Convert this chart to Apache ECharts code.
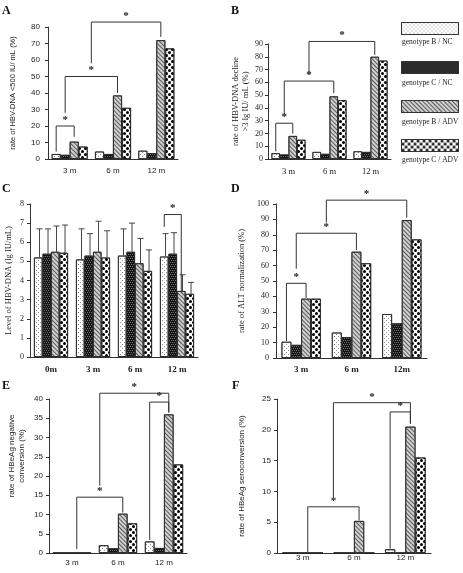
<!DOCTYPE html>
<html><head><meta charset="utf-8">
<script src="https://cdn.jsdelivr.net/npm/echarts@6/dist/echarts.min.js"></script>
<style>html,body{margin:0;padding:0;background:#fff}#c{width:463px;height:573px}</style>
</head><body><div id="c"></div>
<script>
// ---------- data ----------
const seriesNames = ['genotype B / NC', 'genotype C / NC', 'genotype B / ADV', 'genotype C / ADV'];

// A: rate of HBV-DNA <500 IU/mL (%)
const catsA = ['3 m', '6 m', '12 m'];
const aBNC = [3, 4.5, 5];
const aCNC = [2.5, 3, 3.5];
const aBADV = [10.5, 38.5, 72];
const aCADV = [7.5, 31, 67];
// bracket: [cat1, bar1, legBottom1, cat2, bar2, legBottom2, top]
const brA = [[0, 0, 4.5, 0, 2, 13.5, 20], [0, 1, 28, 1, 2, 40, 50], [0.5, 1.5, 58, 2, 2, 74, 83]];

// B: rate of HBV-DNA decline >3 lg IU/mL (%)
const catsB = ['3 m', '6 m', '12 m'];
const bBNC = [4.5, 5.5, 6];
const bCNC = [3.5, 4, 5.5];
const bBADV = [18, 49, 80];
const bCADV = [15, 46, 77];
const brB = [[0, 0, 6, 0, 2, 20, 28], [0, 1, 34, 1, 2, 51.5, 61], [0.5, 1.5, 66, 2, 2, 81.5, 92]];

// C: level of HBV-DNA (lg IU/mL)
const catsC = ['0m', '3 m', '6 m', '12 m'];
const cBNC = [5.2, 5.1, 5.3, 5.25];
const cCNC = [5.4, 5.3, 5.5, 5.4];
const cBADV = [5.5, 5.5, 4.9, 3.45];
const cCADV = [5.45, 5.2, 4.5, 3.3];
const cBNCup = [6.7, 6.7, 6.7, 6.45];
const cCNCup = [6.7, 6.45, 7.0, 6.5];
const cBADVup = [6.85, 7.1, 6.2, 4.3];
const cCADVup = [6.9, 6.6, 5.6, 3.9];
const brC = [[3, 0, 6.8, 3, 2, 3.45, 7.45]];

// D: rate of ALT normalization (%)
const catsD = ['3 m', '6 m', '12m'];
const dBNC = [10.5, 16.5, 28.5];
const dCNC = [8.5, 13.5, 22.5];
const dBADV = [38.5, 69, 89.5];
const dCADV = [38.5, 61.5, 77];
const brD = [[0, 0, 11, 0, 2, 39, 48.5], [0, 1, 58, 1, 2, 70, 81], [0.5, 1.5, 88, 2, 2, 91, 102.5]];

// E: rate of HBeAg negative conversion (%)
const catsE = ['3 m', '6 m', '12 m'];
const eBNC = [0, 2, 3];
const eCNC = [0, 1.2, 1.3];
const eBADV = [0, 10.2, 36];
const eCADV = [0, 7.7, 23];
const brE = [[0, 2, 1, 1, 2, 10.5, 14.5], [0.5, 2, 17.5, 2, 2, 36.5, 41.5], [2, 0, 3.4, 2, 2, 36.5, 39.2]];

// F: rate of HBeAg seroconversion (%)
const catsF = ['3 m', '6 m', '12 m'];
const fBNC = [0, 0, 0.6];
const fCNC = [0, 0, 0];
const fBADV = [0, 5.2, 20.5];
const fCADV = [0, 0, 15.5];
const brF = [[0, 2, 0, 1, 2, 5.3, 7.5], [0.5, 2, 8.9, 2, 2, 21, 24.4], [2, 0, 0.7, 2, 2, 21, 22.9]];

// ---------- styles / layout ----------
const SANS = 'Liberation Sans', SERIF = 'Liberation Serif';
const fills = [
  {color: '#ffffff', decal: {symbol: 'rect', symbolSize: 1, color: '#8c8c8c', dashArrayX: [[1, 3], [0, 2, 1, 1]], dashArrayY: [1, 1]}},
  {color: '#151515', decal: {symbol: 'rect', symbolSize: 1, color: '#707070', dashArrayX: [[1, 1], [0, 1, 1, 0]], dashArrayY: [1, 1]}},
  {color: '#d0d0d0', decal: {symbol: 'rect', symbolSize: 1, color: '#5a5a5a', dashArrayX: [[1, 0]], dashArrayY: [1, 2], rotation: Math.PI / 4}},
  {color: '#ffffff', decal: {symbol: 'circle', symbolSize: 1, color: '#000000', dashArrayX: [[3, 3], [0, 3, 3, 0]], dashArrayY: [3, 0]}}
];

const panels = [
  {grid: {left: 48, top: 27, width: 130, height: 132}, cats: catsA, data: [aBNC, aCNC, aBADV, aCADV], max: 80, interval: 10, gap: 0.17,
   font: SANS, catFont: {fontFamily: SANS, fontSize: 8}, labelMargin: 8, catMargin: 8, name: 'rate of HBV-DNA <500 IU/ mL (%)', nameGap: 30, nameSize: 7.5, br: brA},
  {grid: {left: 268, top: 44, width: 123, height: 115}, cats: catsB, data: [bBNC, bCNC, bBADV, bCADV], max: 90, interval: 10, gap: 0.17,
   font: SERIF, catFont: {fontFamily: SERIF, fontSize: 8.5}, labelMargin: 5, catMargin: 8, name: 'rate of HBV-DNA decline\n>3 lg IU/ mL (%)', nameGap: 12, nameSize: 8.5, br: brB},
  {grid: {left: 30, top: 204, width: 168, height: 153}, cats: catsC, data: [cBNC, cCNC, cBADV, cCADV], max: 8, interval: 1, gap: 0.19,
   font: SERIF, catFont: {fontFamily: SERIF, fontSize: 9, fontWeight: 'bold'}, labelMargin: 6, catMargin: 8, name: 'Level of HBV-DNA (lg IU/mL)', nameGap: 16, nameSize: 8.5, br: brC},
  {grid: {left: 276, top: 204, width: 151, height: 154}, cats: catsD, data: [dBNC, dCNC, dBADV, dCADV], max: 100, interval: 10, gap: 0.22,
   font: SERIF, catFont: {fontFamily: SERIF, fontSize: 9, fontWeight: 'bold'}, labelMargin: 7, catMargin: 7, name: 'rate of ALT normalization (%)', nameGap: 29, nameSize: 8.5, br: brD},
  {grid: {left: 49, top: 399, width: 138, height: 154}, cats: catsE, data: [eBNC, eCNC, eBADV, eCADV], max: 40, interval: 5, gap: 0.17,
   font: SANS, catFont: {fontFamily: SANS, fontSize: 8}, labelMargin: 6, catMargin: 6, name: '', nameGap: 22, nameSize: 8, br: brE},
  {grid: {left: 277, top: 399, width: 154, height: 154}, cats: catsF, data: [fBNC, fCNC, fBADV, fCADV], max: 25, interval: 5, gap: 0.21,
   font: SANS, catFont: {fontFamily: SANS, fontSize: 8}, labelMargin: 6, catMargin: 1, name: 'rate of HBeAg seroconversion (%)', nameGap: 30, nameSize: 8, br: brF}
];

function bracketRenderer(brs, gap) {
  return function (params, api) {
    const b = brs[params.dataIndex];
    const band = api.size([1, 0])[0];
    const barW = band * (1 - gap) / 4;
    const c0 = api.coord([0, 0])[0];
    const xOf = (cat, slot) => c0 + cat * band + (slot - 1.5) * barW;
    const x1 = xOf(b[0], b[1]), x2 = xOf(b[3], b[4]);
    const y1 = api.coord([0, b[2]])[1], y2 = api.coord([0, b[5]])[1], yt = api.coord([0, b[6]])[1];
    return {type: 'group', children: [
      {type: 'polyline', shape: {points: [[x1, y1], [x1, yt], [x2, yt], [x2, y2]]}, style: {stroke: '#333', fill: null, lineWidth: 1}},
      {type: 'text', x: (x1 + x2) / 2, y: yt - 6, style: {text: '*', font: 'bold 11px ' + SERIF, fill: '#222', align: 'center', verticalAlign: 'middle'}}
    ]};
  };
}

const cUps = [cBNCup, cCNCup, cBADVup, cCADVup];
const cVals = [cBNC, cCNC, cBADV, cCADV];
function errorRenderer(gap) {
  return function (params, api) {
    const i = api.value(0), s = api.value(1);
    const band = api.size([1, 0])[0];
    const barW = band * (1 - gap) / 4;
    const cx = api.coord([i, 0])[0] + (s - 1.5) * barW + barW * 0.15;
    const yv = api.coord([i, cVals[s][i]])[1];
    const yu = api.coord([i, cUps[s][i]])[1];
    return {type: 'group', children: [
      {type: 'line', shape: {x1: cx, y1: yv, x2: cx, y2: yu}, style: {stroke: '#444', lineWidth: 1}},
      {type: 'line', shape: {x1: cx - 3, y1: yu, x2: cx + 3, y2: yu}, style: {stroke: '#444', lineWidth: 1}}
    ]};
  };
}

const grid = [], xAxis = [], yAxis = [], series = [];
panels.forEach((p, gi) => {
  grid.push(Object.assign({containLabel: false}, p.grid));
  xAxis.push({gridIndex: gi, type: 'category', data: p.cats,
    axisLine: {lineStyle: {color: '#333', width: 1}}, axisTick: {show: false},
    axisLabel: Object.assign({color: '#222', margin: p.catMargin, interval: 0}, p.catFont)});
  yAxis.push({gridIndex: gi, type: 'value', min: 0, max: p.max, interval: p.interval,
    splitLine: {show: false},
    axisLine: {show: true, lineStyle: {color: '#333', width: 1}},
    axisTick: {show: true, length: 3, lineStyle: {color: '#333'}},
    axisLabel: {color: '#222', fontFamily: p.font, fontSize: 8, margin: p.labelMargin},
    name: p.name, nameLocation: 'middle', nameGap: p.nameGap, nameRotate: 90,
    nameTextStyle: {color: '#222', fontFamily: p.font, fontSize: p.nameSize, lineHeight: 10}});
  p.data.forEach((arr, si) => {
    series.push({type: 'bar', name: seriesNames[si], xAxisIndex: gi, yAxisIndex: gi, data: arr,
      barGap: '0%', barCategoryGap: Math.round(p.gap * 100) + '%',
      itemStyle: {color: fills[si].color, borderColor: '#222', borderWidth: 0.8, decal: fills[si].decal},
      emphasis: {disabled: true}, silent: true});
  });
  series.push({type: 'custom', xAxisIndex: gi, yAxisIndex: gi, z: 5, silent: true,
    data: p.br.map(() => [0, 0]), renderItem: bracketRenderer(p.br, p.gap)});
  if (gi === 2) {
    const ed = [];
    cUps.forEach((arr, s) => arr.forEach((v, i) => ed.push([i, s])));
    series.push({type: 'custom', xAxisIndex: gi, yAxisIndex: gi, z: 4, silent: true,
      encode: {x: 0, y: -1}, data: ed, renderItem: errorRenderer(p.gap)});
  }
});

const letterStyle = {font: 'bold 12px ' + SERIF, fill: '#111', verticalAlign: 'middle'};
const letters = [['A', 2, 12], ['B', 231, 12], ['C', 2, 190], ['D', 231, 190], ['E', 2, 387], ['F', 232, 387]];
const legendLabels = [[seriesNames[0], 42], [seriesNames[1], 83], [seriesNames[2], 122], [seriesNames[3], 160]];
const graphic = letters.map(l => ({type: 'text', left: l[1], top: l[2] - 7, style: Object.assign({text: l[0]}, letterStyle)}))
  .concat(legendLabels.map(l => ({type: 'text', x: 402, y: l[1], style: {text: l[0], font: '7.5px ' + SERIF, fill: '#222', verticalAlign: 'middle'}})))
  .concat([{type: 'text', x: 17, y: 456, rotation: Math.PI / 2,
    style: {text: 'rate of HBeAg negative\nconversion (%)', font: '8px ' + SANS, fill: '#222', align: 'center', verticalAlign: 'middle', lineHeight: 10}}]);

const chart = echarts.init(document.getElementById('c'));
chart.setOption({
  animation: false,
  backgroundColor: '#fff',
  grid, xAxis, yAxis, series, graphic,
  legend: {data: seriesNames, orient: 'vertical', left: 401, top: 22, padding: 0, itemWidth: 57, itemHeight: 12, itemGap: 26,
    icon: 'rect', selectedMode: false, formatter: () => '', textStyle: {fontSize: 1},
    itemStyle: {borderColor: '#333', borderWidth: 1}}
});
</script>
</body></html>
